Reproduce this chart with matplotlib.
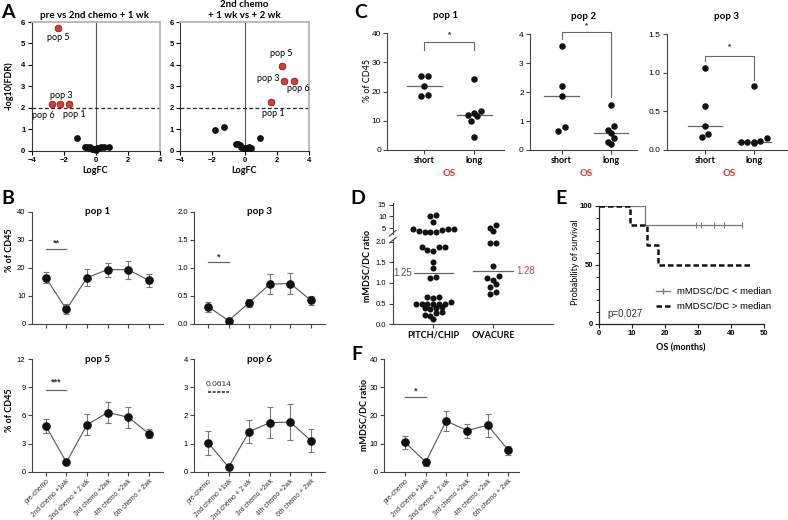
import matplotlib
matplotlib.use("Agg")
import matplotlib.pyplot as plt
import numpy as np
from matplotlib.lines import Line2D

plt.rcParams['font.family'] = ['Liberation Sans', 'DejaVu Sans']
LAB = ['Lato', 'DejaVu Sans']
RED = '#e8352e'

W, H = 788, 520
fig = plt.figure(figsize=(W / 100, H / 100), dpi=100)


def axpx(l, t, r, b):
    return fig.add_axes([l / W, 1 - b / H, (r - l) / W, (b - t) / H])


def ftext(x, y, s, **kw):
    fig.text(x / W, 1 - y / H, s, **kw)


# ---------------- DATA ----------------
# Panel A (volcano)
a1_red_x = [-2.35, -2.25, -2.75, -1.7]
a1_red_y = [5.7, 2.15, 2.15, 2.15]
a1_red_lab = ['pop 5', 'pop 3', 'pop 6', 'pop 1']
a1_blk_x = [-1.2, -0.65, -0.55, -0.45, -0.35, -0.25, -0.1, 0.0, 0.1, 0.2, 0.35, 0.5, 0.8]
a1_blk_y = [0.6, 0.15, 0.15, 0.12, 0.15, 0.08, 0.05, 0.02, 0.1, 0.12, 0.15, 0.15, 0.15]

a2_red_x = [2.3, 2.45, 3.07, 1.65]
a2_red_y = [3.95, 3.25, 3.25, 2.25]
a2_red_lab = ['pop 5', 'pop 3', 'pop 6', 'pop 1']
a2_blk_x = [-1.8, -1.25, -0.5, -0.4, -0.3, -0.2, -0.1, 0.0, 0.1, 0.2, 0.3, 0.4, 0.95]
a2_blk_y = [0.95, 1.1, 0.3, 0.3, 0.25, 0.15, 0.1, 0.1, 0.1, 0.12, 0.15, 0.12, 0.6]

# Panel B / F (time course)
timepoints = ['pre-chemo', '2nd chemo +1wk', '2nd chemo + 2 wk', '3rd chemo +2wk',
              '4th chemo +2wk', '6th chemo + 2wk']
b_pop1_mean = [16.5, 5.2, 16.5, 19.4, 19.3, 15.5]
b_pop1_err = [2.0, 1.8, 3.0, 2.5, 3.3, 2.3]
b_pop3_mean = [0.31, 0.06, 0.38, 0.71, 0.72, 0.42]
b_pop3_err = [0.09, 0.02, 0.07, 0.18, 0.18, 0.08]
b_pop5_mean = [4.9, 1.0, 5.0, 6.3, 5.8, 4.05]
b_pop5_err = [0.75, 0.15, 1.1, 1.15, 1.1, 0.5]
b_pop6_mean = [1.03, 0.16, 1.42, 1.74, 1.76, 1.1]
b_pop6_err = [0.43, 0.05, 0.41, 0.56, 0.63, 0.4]
f_mean = [10.5, 3.4, 18.0, 14.6, 16.5, 7.6]
f_err = [2.3, 1.2, 3.7, 2.5, 4.1, 1.5]

# Panel C (short vs long OS)
c_groups = ['short', 'long']
c1_short = [25.3, 25.2, 21.8, 18.5, 18.7]
c1_long = [24.5, 13.5, 12.8, 12.0, 11.6, 9.8, 4.3]
c2_short = [3.6, 2.2, 1.85, 0.79, 0.64]
c2_long = [1.57, 0.83, 0.68, 0.6, 0.41, 0.27, 0.21]
c3_short = [1.06, 0.57, 0.31, 0.21, 0.17]
c3_long = [0.83, 0.16, 0.12, 0.11, 0.11, 0.1, 0.09]

# Panel D (mMDSC/DC ratio by cohort)
d_groups = ['PITCH/CHIP', 'OVACURE']
d_pitch = [10.6, 10.4, 7.8, 4.7, 4.4, 4.8, 3.4, 3.3, 3.3, 4.5, 3.7,
           1.88, 1.86, 1.86, 1.80, 1.78, 1.5, 1.37, 1.14, 1.12,
           0.67, 0.64, 0.67, 0.5, 0.5, 0.5, 0.55, 0.5, 0.5, 0.5,
           0.41, 0.4, 0.4, 0.38, 0.3, 0.28, 0.22, 0.2, 0.13]
d_ovacure = [6.2, 5.2, 3.8, 1.97, 1.97, 1.4, 1.18, 1.12, 1.08, 0.97, 0.9, 0.77, 0.73]
d_medians = [1.25, 1.28]

# Panel E (Kaplan-Meier)
e_low_t = [0, 14, 43.5]
e_low_s = [100, 83.3, 83.3]
e_low_cens = [29.5, 31, 35, 38, 43.5]
e_high_t = [0, 9.5, 14.5, 18, 46]
e_high_s = [100, 83.3, 66.7, 50, 50]
e_labels = ['mMDSC/DC < median', 'mMDSC/DC > median']

# ---------------- helpers ----------------
def style_spines(ax, color='#444', lw=0.8):
    for s in ['top', 'right']:
        ax.spines[s].set_visible(False)
    for s in ['left', 'bottom']:
        ax.spines[s].set_color(color)
        ax.spines[s].set_linewidth(lw)
    ax.tick_params(length=3, width=0.8, color=color, labelsize=6, pad=1.5)


# ---------------- PANEL A ----------------
def volcano(ax, bx, by, rx, ry, labels, offs):
    ax.axvline(0, color='#555', lw=0.8, zorder=1)
    ax.axhline(2, color='#222', lw=0.9, ls=(0, (3, 2)), zorder=1)
    ax.scatter(bx, by, s=24, color='#111', zorder=3, clip_on=False, linewidths=0)
    ax.scatter(rx, ry, s=24, color=RED, edgecolor='#333', linewidth=0.5, zorder=4)
    for x, y, lab, (dx, dy) in zip(rx, ry, labels, offs):
        ax.annotate(lab, (x, y), xytext=(dx, dy), textcoords='offset pixels',
                    ha='center', va='center', fontsize=6.5, family=LAB)
    ax.set_xlim(-4, 4)
    ax.set_ylim(0, 6)
    ax.set_xticks([-4, -2, 0, 2, 4])
    ax.set_yticks(range(7))
    for s in ['left', 'bottom']:
        ax.spines[s].set_color('#333')
        ax.spines[s].set_linewidth(0.8)
    for s in ['top', 'right']:
        ax.spines[s].set_color('#b5b5b5')
        ax.spines[s].set_linewidth(1.3)
    ax.tick_params(length=3, width=0.8, labelsize=5.5, pad=1.5)
    for lbl in ax.get_xticklabels() + ax.get_yticklabels():
        lbl.set_fontweight('bold')


axA1 = axpx(31.7, 22, 160, 150.5)
volcano(axA1, a1_blk_x, a1_blk_y, a1_red_x, a1_red_y, a1_red_lab,
        [(0, -9), (2, 8.5), (-8, -11.5), (6, -10.5)])
axA2 = axpx(180, 22, 309, 150.5)
volcano(axA2, a2_blk_x, a2_blk_y, a2_red_x, a2_red_y, a2_red_lab,
        [(0, 12), (-16, 2), (4, -8), (2, -11)])

ftext(95, 15, 'pre vs 2nd chemo + 1 wk', ha='center', va='center', fontsize=7, fontweight='bold', family=LAB)
ftext(244, 4.5, '2nd chemo', ha='center', va='center', fontsize=7, fontweight='bold', family=LAB)
ftext(244, 15, '+ 1 wk vs + 2 wk', ha='center', va='center', fontsize=7, fontweight='bold', family=LAB)
ftext(95, 171, 'LogFC', ha='center', va='center', fontsize=6.5, fontweight='bold', family=LAB)
ftext(244, 171, 'LogFC', ha='center', va='center', fontsize=6.5, fontweight='bold', family=LAB)
ftext(9, 86, '-log10(FDR)', ha='center', va='center', rotation=90, fontsize=6.5, fontweight='bold', family=LAB)


# ---------------- PANEL B / F ----------------
def timecourse(ax, means, errs, ymax, yticks, yfmt, title, sig, sigy, stary, dashed=False,
               show_labels=False, xlim=(-0.68, 5.68)):
    x = np.arange(len(means))
    ax.plot(x, means, color='#555', lw=0.8, zorder=2)
    ax.errorbar(x, means, yerr=errs, fmt='o', ms=5.2, color='#111', ecolor='#777',
                elinewidth=0.8, capsize=2.3, capthick=0.8, zorder=3)
    ax.set_xlim(*xlim)
    ax.set_ylim(0, ymax)
    ax.set_yticks(yticks)
    ax.set_yticklabels([yfmt.format(v) for v in yticks])
    ax.set_xticks(x)
    style_spines(ax)
    ax.tick_params(axis='y', labelsize=5.5)
    if show_labels:
        ax.set_xticklabels(timepoints, rotation=45, ha='right', rotation_mode='anchor', fontsize=4.8, color='#333')
    else:
        ax.set_xticklabels([])
    if title:
        ax.text(0.5, 1.0, title, transform=ax.transAxes, ha='center', va='center', fontsize=7,
                fontweight='bold', family=LAB)
    ax.plot([0, 1], [sigy, sigy], color='#222' if dashed else '#666', lw=1.1 if dashed else 0.9,
            ls=(0, (2, 1)) if dashed else '-', clip_on=False)
    ax.text(0.5, stary, sig, ha='center', va='center', fontsize=6.5 if not dashed else 6,
            color='#333', fontweight='bold' if not dashed else 'normal')


axB1 = axpx(31.7, 211.7, 163, 324)
timecourse(axB1, b_pop1_mean, b_pop1_err, 40, [0, 10, 20, 30, 40], '{:g}', 'pop 1', '**', 26.7, 28.8)
axB2 = axpx(194, 211.7, 325, 324)
timecourse(axB2, b_pop3_mean, b_pop3_err, 2.0, [0, 0.5, 1.0, 1.5, 2.0], '{:.1f}', 'pop 3', '*', 1.1, 1.2)
axB3 = axpx(31.7, 359, 163, 471.7)
timecourse(axB3, b_pop5_mean, b_pop5_err, 12, [0, 3, 6, 9, 12], '{:g}', 'pop 5', '***', 8.7, 9.5,
           show_labels=True)
axB4 = axpx(194, 359, 325, 471.7)
timecourse(axB4, b_pop6_mean, b_pop6_err, 4, [0, 1, 2, 3, 4], '{:g}', 'pop 6', '0.0614', 2.82, 3.1,
           dashed=True, show_labels=True)
axF = axpx(384.3, 359, 519.3, 471.7)
timecourse(axF, f_mean, f_err, 40, [0, 10, 20, 30, 40], '{:g}', '', '*', 26.5, 28.7,
           show_labels=True, xlim=(-1.0, 5.53))

ftext(10, 250, '% of CD45', ha='center', va='center', rotation=90, fontsize=6.5, fontweight='bold', family=LAB)
ftext(10, 410, '% of CD45', ha='center', va='center', rotation=90, fontsize=6.5, fontweight='bold', family=LAB)
ftext(364, 415, 'mMDSC/DC ratio', ha='center', va='center', rotation=90, fontsize=6.5, fontweight='bold', family=LAB)


# ---------------- swarm helper ----------------
def swarm_x(ax_for_value, ax_x, x0, vals, diam_px, thresh=0.85, interleave=False):
    ys = np.array([ax_for_value(v).transData.transform((0, v))[1] for v in vals])
    pxu = ax_x.transData.transform((1, 0))[0] - ax_x.transData.transform((0, 0))[0]
    order = np.argsort(-ys, kind='stable')
    rows, cur = [], [order[0]]
    for i in order[1:]:
        if abs(ys[cur[0]] - ys[i]) < thresh * diam_px:
            cur.append(i)
        else:
            rows.append(cur)
            cur = [i]
    rows.append(cur)
    xs = np.zeros(len(vals))
    for row in rows:
        row = sorted(row, key=lambda i: ys[i])
        n = len(row)
        slots = list(range(n))
        if interleave:
            c = (n - 1) // 2
            seq = [c]
            for d in range(1, n):
                if c - d >= 0:
                    seq.append(c - d)
                if c + d < n:
                    seq.append(c + d)
            slots = seq[:n]
        for k, i in zip(slots, row):
            xs[i] = x0 + (k - (n - 1) / 2) * diam_px * 1.05 / pxu
    return xs


# ---------------- PANEL C ----------------
def dotpanel(ax, short, long_, ymax, yticks, yfmt, title, xlim, bracket):
    ax.set_xlim(*xlim)
    ax.set_ylim(0, ymax)
    for gi, vals in enumerate([short, long_]):
        xs = swarm_x(lambda v: ax, ax, gi, vals, 6.2)
        ax.scatter(xs, vals, s=22, color='#111', linewidths=0, zorder=3, clip_on=False)
        med = np.median(vals)
        ax.plot([gi - 0.35, gi + 0.35], [med, med], color='#666', lw=0.9, zorder=2)
    ax.set_xticks([0, 1])
    ax.set_xticklabels(c_groups)
    ax.set_yticks(yticks)
    ax.set_yticklabels([yfmt.format(v) for v in yticks])
    style_spines(ax)
    ax.tick_params(axis='x', labelsize=6.5, length=3)
    for lbl in ax.get_xticklabels():
        lbl.set_fontweight('bold')
        lbl.set_family(LAB)
    top, yl, yr, ys = bracket
    ax.plot([0, 0, 1, 1], [yl, top, top, yr], color='#666', lw=0.8, clip_on=False)
    ax.text(0.5, ys, '*', ha='center', va='center', fontsize=6, color='#333', fontweight='bold')
    ax.text(0.5, 1.155, title, transform=ax.transAxes, ha='center', va='center', fontsize=7,
            fontweight='bold', family=LAB)
    ax.text(0.5, -0.2, 'OS', transform=ax.get_xaxis_transform(), ha='center', va='center',
            fontsize=7, fontweight='bold', color=RED, family=LAB)


axC1 = axpx(387.3, 33.3, 504, 150)
dotpanel(axC1, c1_short, c1_long, 40, [0, 10, 20, 30, 40], '{:g}', 'pop 1', (-0.745, 1.6),
         (36.9, 34.2, 34.2, 39.4))
axC2 = axpx(530, 34.3, 636.7, 150)
dotpanel(axC2, c2_short, c2_long, 4, [0, 1, 2, 3, 4], '{:g}', 'pop 2', (-0.64, 1.52),
         (4.07, 3.84, 1.84, 4.3))
axC3 = axpx(666.7, 34.3, 787, 150)
dotpanel(axC3, c3_short, c3_long, 1.5, [0.0, 0.5, 1.0, 1.5], '{:.1f}', 'pop 3', (-0.79, 1.68),
         (1.22, 1.15, 0.91, 1.34))
ftext(368, 81, '% of CD45', ha='center', va='center', rotation=90, fontsize=6.5, family=LAB)

# ---------------- PANEL D ----------------
axDl = axpx(392.7, 239.6, 553, 324.3)
axDu = axpx(392.7, 203.5, 553, 233.5)
for ax in (axDl, axDu):
    ax.set_xlim(-0.68, 2.0)
axDl.set_ylim(0, 2.05)
axDu.set_ylim(2.8, 15.5)
split = 2.5
pick = lambda v: axDu if v > split else axDl
for gi, vals in enumerate([d_pitch, d_ovacure]):
    xs = swarm_x(pick, axDl, gi, vals, 5.6, thresh=0.8, interleave=True)
    vals = np.array(vals)
    hi = vals > split
    axDu.scatter(xs[hi], vals[hi], s=19, color='#111', linewidths=0, zorder=3, clip_on=False)
    axDl.scatter(xs[~hi], vals[~hi], s=19, color='#111', linewidths=0, zorder=3, clip_on=False)
    m = d_medians[gi]
    axDl.plot([gi - 0.33, gi + 0.33], [m, m], color='#666', lw=0.9, zorder=2)
axDl.text(-0.35, d_medians[0], '{:.2f}'.format(d_medians[0]), ha='right', va='center', fontsize=7, color='#555')
axDl.text(1.38, d_medians[1], '{:.2f}'.format(d_medians[1]), ha='left', va='center', fontsize=7, color=RED)
style_spines(axDl)
style_spines(axDu)
axDl.set_yticks([0, 0.5, 1.0, 1.5, 2.0])
axDl.set_yticklabels(['0.0', '0.5', '1.0', '1.5', '2.0'])
axDl.set_xticks([0, 1])
axDl.set_xticklabels(d_groups)
axDl.tick_params(axis='x', labelsize=6.5)
for lbl in axDl.get_xticklabels():
    lbl.set_fontweight('bold')
    lbl.set_family(LAB)
axDl.tick_params(axis='y', labelsize=5.5)
axDu.spines['bottom'].set_visible(False)
axDu.set_xticks([])
axDu.set_yticks([5, 10, 15])
axDu.tick_params(axis='y', labelsize=5.5)
for (x1, y1, x2, y2) in [(389.5, 236, 396, 230.5), (389.5, 243, 396, 237.5)]:
    fig.add_artist(Line2D([x1 / W, x2 / W], [1 - y1 / H, 1 - y2 / H], color='#444', lw=0.8))
ftext(367, 266, 'mMDSC/DC ratio', ha='center', va='center', rotation=90, fontsize=6.5, fontweight='bold', family=LAB)

# ---------------- PANEL E ----------------
axE = axpx(599, 205.7, 763.7, 324)
axE.step(e_low_t, e_low_s, where='post', color='#777', lw=0.9)
axE.step(e_high_t, e_high_s, where='post', color='#111', lw=1.8, ls=(0, (2.2, 1.2)))
axE.scatter(e_low_cens, [e_low_s[-1]] * len(e_low_cens), marker='|', s=18, color='#777', linewidths=0.7)
axE.set_xlim(0, 50)
axE.set_ylim(0, 100)
axE.set_xticks([0, 10, 20, 30, 40, 50])
axE.set_yticks([0, 50, 100])
axE.set_yticks(np.arange(0, 101, 10), minor=True)
style_spines(axE, color='#222', lw=0.9)
axE.tick_params(which='minor', length=2, width=0.7, color='#222')
axE.tick_params(labelsize=5.5)
for lbl in axE.get_xticklabels() + axE.get_yticklabels():
    lbl.set_fontweight('bold')
axE.text(2.5, 8.5, 'p=0,027', fontsize=7, color='#333', va='center')
axE.legend(handles=[Line2D([], [], color='#777', lw=0.9, marker='|', ms=4, markevery=[1]),
                    Line2D([], [], color='#111', lw=1.8, ls=(0, (2.2, 1.2)))],
           labels=e_labels, loc='upper left',
           bbox_to_anchor=(656 / W, 1 - 287.2 / H), bbox_transform=fig.transFigure,
           borderpad=0, borderaxespad=0, frameon=False, fontsize=6.8, handlelength=1.5,
           handletextpad=0.7, labelspacing=0.62)
ftext(575, 262, 'Probability of survival', ha='center', va='center', rotation=90, fontsize=6.5, family=LAB)
ftext(681, 348, 'OS (months)', ha='center', va='center', fontsize=6.5, fontweight='bold', family=LAB)

# ---------------- panel letters ----------------
for (x, y, s) in [(8, 12, 'A'), (8, 198, 'B'), (361, 12, 'C'), (358, 199, 'D'), (561, 198, 'E'), (357, 355, 'F')]:
    ftext(x, y, s, ha='center', va='center', fontsize=14, fontweight='bold', family=LAB)

fig.savefig('out.png', dpi=100)
